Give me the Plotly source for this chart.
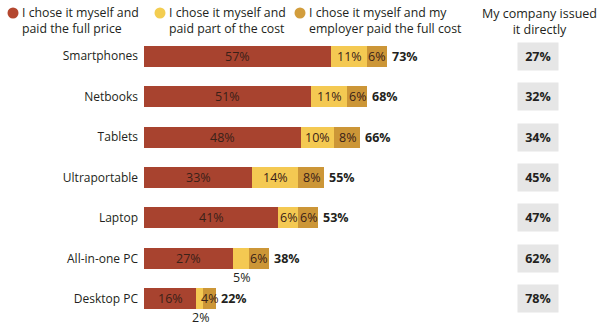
import plotly.graph_objects as go

# --- data -------------------------------------------------------------
devices = ["Smartphones", "Netbooks", "Tablets", "Ultraportable",
           "Laptop", "All-in-one PC", "Desktop PC"]
paid_full = [57, 51, 48, 33, 41, 27, 16]          # chose it, paid full price
paid_part = [11, 11, 10, 14, 6, 5, 2]             # chose it, paid part of cost
employer_paid = [6, 6, 8, 8, 6, 6, 4]             # chose it, employer paid
chose_total = [73, 68, 66, 55, 53, 38, 22]        # stated total "chose it myself"
company_issued = [27, 32, 34, 45, 47, 62, 78]     # company issued it directly

series_names = ["I chose it myself and<br>paid the full price",
                "I chose it myself and<br>paid part of the cost",
                "I chose it myself and my<br>employer paid the full cost"]
side_header = "My company issued<br>it directly"

# --- style ------------------------------------------------------------
W, H = 614, 331
M_L, M_R, M_T, M_B = 144, 0, 36, 12
PX_PER_PCT = 3.28
FONT = "Open Sans"
TXT = "#231f20"
COLORS = ["#a8432f", "#f4c952", "#cc9637"]
DOT_COLORS = ["#b4472f", "#f3cd50", "#d29d3c"]

plot_w = W - M_L - M_R
plot_h = H - M_T - M_B


def px_x(px):
    return (px - M_L) / plot_w


def px_y(py):
    return (H - M_B - py) / plot_h


fig = go.Figure()
for name, vals, col in zip(series_names, [paid_full, paid_part, employer_paid], COLORS):
    fig.add_trace(go.Bar(
        y=devices, x=vals, name=name, orientation="h",
        marker=dict(color=col, line=dict(width=0)),
        hoverinfo="skip", showlegend=False,
    ))

annotations = []
for i, dev in enumerate(devices):
    segs = [paid_full[i], paid_part[i], employer_paid[i]]
    left = 0
    for k, v in enumerate(segs):
        mid = left + v / 2
        below = (k == 1 and v < 6)
        annotations.append(dict(
            x=mid, y=dev, xref="x", yref="y", text=f"{v}%", showarrow=False,
            xanchor="center", yanchor="middle",
            yshift=-19 if below else 0, xshift=1 if below else 0,
            font=dict(family=FONT, size=12.5, color="#3a2118" if not below else TXT),
        ))
        left += v
    # bold total to the right of the stack
    annotations.append(dict(
        x=left, y=dev, xref="x", yref="y", text=f"<b>{chose_total[i]}%</b>",
        showarrow=False, xanchor="left", yanchor="middle", xshift=3,
        font=dict(family=FONT, size=12.5, color=TXT),
    ))
    # grey cell for company-issued share
    annotations.append(dict(
        x=px_x(538), y=dev, xref="paper", yref="y",
        text=f"<b>{company_issued[i]}%</b>", showarrow=False,
        xanchor="center", yanchor="middle", width=40, height=27,
        bgcolor="#e6e6e6", borderpad=0, align="center", valign="middle",
        font=dict(family=FONT, size=12.5, color=TXT),
    ))

# legend built from dots and text in the top band
shapes = []
legend_dot_x = [13, 160, 300]
for name, col, dx in zip(series_names, DOT_COLORS, legend_dot_x):
    shapes.append(dict(
        type="circle", xref="paper", yref="paper",
        xsizemode="pixel", ysizemode="pixel",
        xanchor=px_x(dx), yanchor=px_y(13),
        x0=-5.5, x1=5.5, y0=-5.5, y1=5.5,
        fillcolor=col, line=dict(width=0),
    ))
    annotations.append(dict(
        x=px_x(dx + 7), y=px_y(20), xref="paper", yref="paper",
        text=name, showarrow=False, xanchor="left", yanchor="middle",
        align="left", font=dict(family=FONT, size=12.3, color=TXT),
    ))

annotations.append(dict(
    x=px_x(539), y=px_y(21), xref="paper", yref="paper",
    text=side_header, showarrow=False, xanchor="center", yanchor="middle",
    align="center", font=dict(family=FONT, size=12.5, color=TXT),
))

fig.update_layout(
    width=W, height=H,
    margin=dict(l=M_L, r=M_R, t=M_T, b=M_B, pad=0),
    barmode="stack", bargap=0.48,
    plot_bgcolor="white", paper_bgcolor="white",
    font=dict(family=FONT, size=12.5, color=TXT),
    xaxis=dict(range=[0, plot_w / PX_PER_PCT], visible=False, fixedrange=True),
    yaxis=dict(categoryorder="array", categoryarray=devices, autorange="reversed",
               showgrid=False, zeroline=False, showline=False, ticks="",
               ticklabelstandoff=5,
               tickfont=dict(family=FONT, size=12, color=TXT)),
    annotations=annotations, shapes=shapes,
)

fig.write_html("out.html")
